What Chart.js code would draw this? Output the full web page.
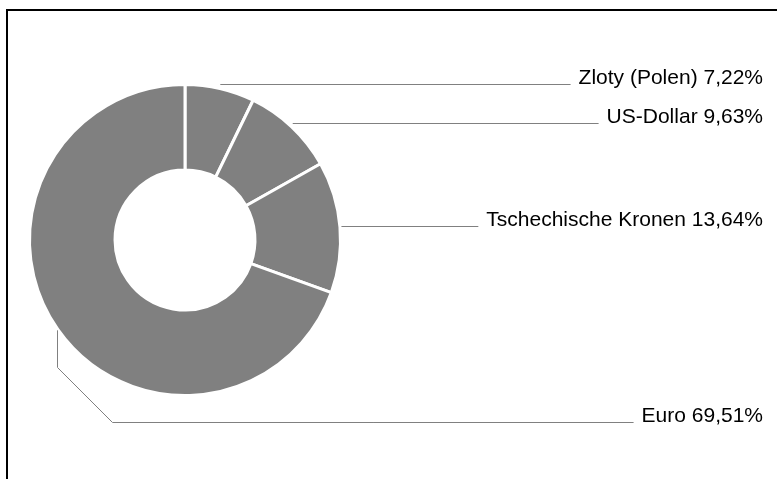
<!DOCTYPE html>
<html>
<head>
<meta charset="utf-8">
<script src="https://cdn.jsdelivr.net/npm/chart.js@4"></script>
<style>
  html, body { margin: 0; padding: 0; background: #fff; }
  #wrap { position: relative; width: 777px; height: 479px; overflow: hidden; }
  #frame { position: absolute; left: 6px; top: 9px; width: 900px; height: 600px;
           border-left: 2px solid #000; border-top: 2px solid #000; }
  canvas { position: absolute; left: 0; top: 0; }
</style>
</head>
<body>
<div id="wrap">
  <canvas id="myChart" width="777" height="479"></canvas>
  <div id="frame"></div>
</div>
<script>
const labels = ['Zloty (Polen)', 'US-Dollar', 'Tschechische Kronen', 'Euro'];
const shares = [7.22, 9.63, 13.64, 69.51];

// where each label line sits (baseline of the text)
const labelY = [84, 123, 226, 422];

const ctx = document.getElementById('myChart').getContext('2d');

const leaderLabels = {
    id: 'leaderLabels',
    afterDatasetsDraw(chart) {
        const c = chart.ctx;
        const arcs = chart.getDatasetMeta(0).data;
        const textRight = 763;
        c.save();
        c.font = '21px "Liberation Sans", Arial, sans-serif';
        c.textAlign = 'right';
        c.textBaseline = 'alphabetic';
        arcs.forEach((arc, i) => {
            const p = arc.getProps(['x', 'y', 'startAngle', 'endAngle', 'outerRadius']);
            const mid = (p.startAngle + p.endAngle) / 2;
            const r = p.outerRadius + 1.5;
            const ax = p.x + Math.cos(mid) * r;
            const ay = p.y + Math.sin(mid) * r;
            const text = labels[i] + ' ' + shares[i].toFixed(2).replace('.', ',') + '%';
            const w = c.measureText(text).width;
            const ly = labelY[i] + 0.5;
            const endX = textRight - w - 8;

            c.strokeStyle = '#808080';
            c.lineWidth = 1;
            c.beginPath();
            if (ly - ay > 40) {
                // label well below the slice: go down, then diagonal, then across
                const bx = Math.round(ax) + 0.5;
                c.moveTo(bx, ay);
                c.lineTo(bx, ly - 55);
                c.lineTo(bx + 55, ly);
            } else {
                c.moveTo(ax, ly);
            }
            c.lineTo(endX, ly);
            c.stroke();

            c.fillStyle = '#000';
            c.fillText(text, textRight, labelY[i]);
        });
        c.restore();
    }
};

new Chart(ctx, {
    type: 'doughnut',
    data: {
        labels: labels,
        datasets: [{
            data: shares,
            backgroundColor: '#808080',
            borderColor: '#ffffff',
            borderWidth: 3,
            hoverOffset: 0
        }]
    },
    options: {
        responsive: false,
        animation: false,
        cutout: '45%',
        layout: { padding: { left: 28, right: 435, top: 83, bottom: 82 } },
        plugins: {
            legend: { display: false },
            tooltip: { enabled: false }
        }
    },
    plugins: [leaderLabels]
});
</script>
</body>
</html>
